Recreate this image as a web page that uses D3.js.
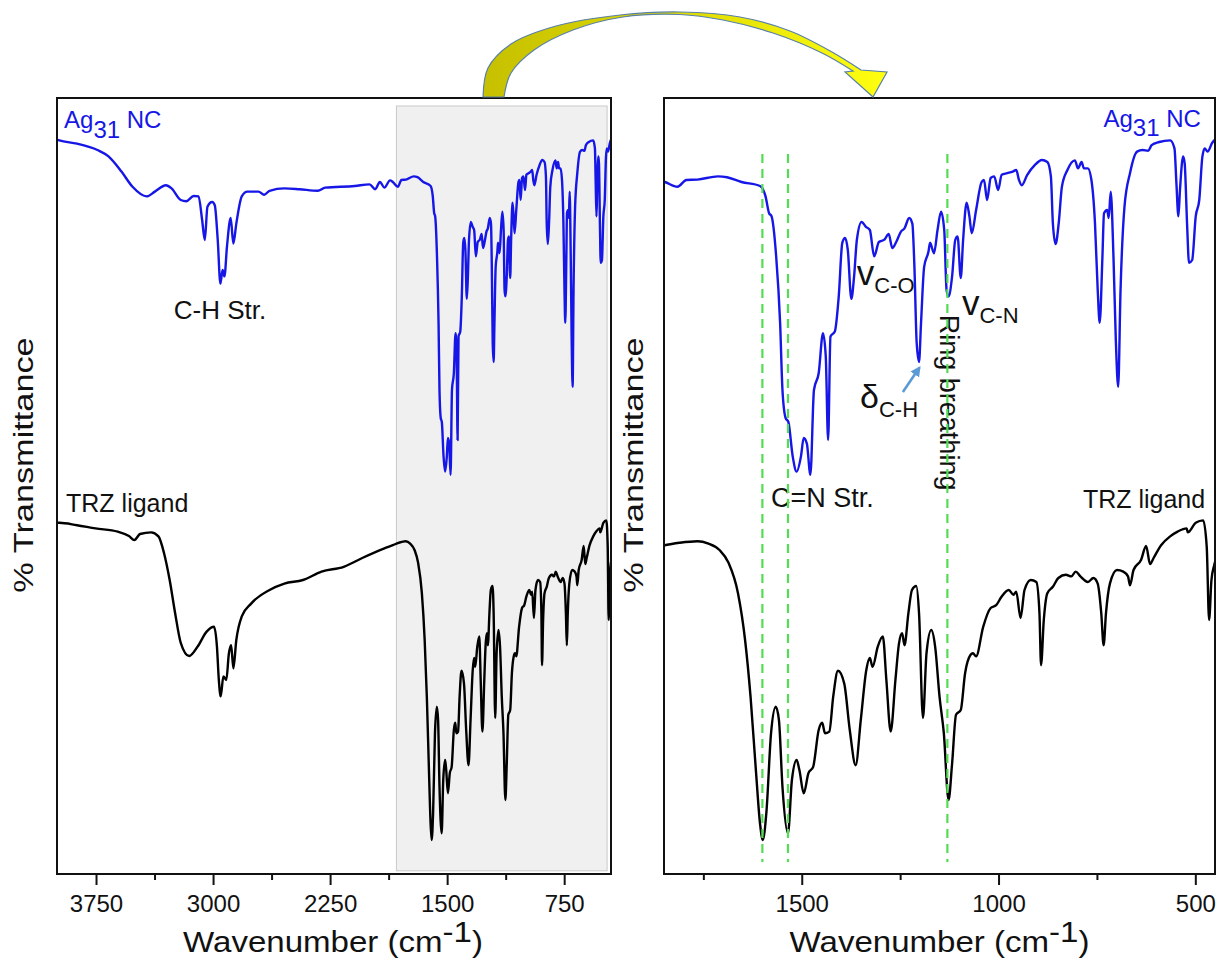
<!DOCTYPE html>
<html>
<head>
<meta charset="utf-8">
<script src="https://cdn.jsdelivr.net/npm/d3@7"></script>
<style>
  html, body { margin: 0; padding: 0; background: #fff; }
  svg { display: block; font-family: "Liberation Sans", Arial, Helvetica, sans-serif; }
</style>
</head>
<body>
<svg id="chart" width="1225" height="972"></svg>
<script>
// FTIR spectra: [wavenumber (cm-1), transmittance (a.u., traces offset vertically)]
const ag31NC = [
  [4000,91.8],[3985,91.7],[3872,91.3],[3741,90.5],[3670,89.7],[3587,87.8],[3516,85.9],[3425,84.7],
  [3373,85.3],[3302,86.1],[3266,85.7],[3207,84.25],[3172,84.1],[3124,84.75],[3093,84.7],[3070,81.75],
  [3053,79.25],[3036,83.4],[3006,84.0],[2989,83.6],[2970,79.25],[2953,73.8],[2939,75.5],[2927,74.7],
  [2911,78.4],[2887,82.0],[2870,78.8],[2851,81.3],[2816,84.7],[2780,85.3],[2709,85.3],[2673,84.9],
  [2638,85.4],[2543,85.7],[2448,85.6],[2329,85.4],[2282,85.8],[2092,86.0],[1997,86.2],[1961,85.6],
  [1931,86.5],[1902,85.8],[1866,86.7],
  [1848,86.5],[1816,85.9],[1793,86.75],[1765,86.8],[1713,87.2],[1690,87.1],[1653,86.5],[1606,86.0],
  [1592,84.7],[1583,82.6],[1577,82.25],[1565,77.2],[1555,68.9],[1549,60.5],[1541,57.0],[1534,56.5],
  [1523,52.2],[1513,50.3],[1502,52.2],[1495,54.5],[1487,53.8],[1478,49.9],[1469,60.5],[1457,62.6],
  [1446,67.6],[1439,64.7],[1433,54.25],[1427,67.2],[1416,67.8],[1406,72.2],[1397,78.9],[1390,79.5],
  [1383,78.0],[1374,71.9],[1367,74.7],[1360,79.25],[1348,81.5],[1337,80.9],[1327,80.5],[1316,77.2],
  [1304,79.0],[1290,79.3],[1279,80.0],[1270,78.25],[1260,79.0],[1248,80.3],[1239,80.7],[1227,82.0],
  [1219,81.3],[1214,76.3],[1208,66.4],[1202,64.0],[1197,68.8],[1189,75.9],[1178,77.8],[1174,78.9],
  [1164,77.6],[1155,80.5],[1146,82.8],[1138,80.5],[1132,73.0],[1127,72.2],[1118,74.7],[1110,79.25],
  [1104,79.7],[1096,74.5],[1090,79.25],[1081,83.9],[1074,82.2],[1068,80.1],[1057,83.0],[1043,86.5],
  [1037,86.75],[1029,84.25],[1020,87.0],[1011,87.2],[1001,85.5],[992,87.4],[978,87.6],[964,87.8],
  [955,88.0],[948,86.75],[941,86.1],[927,87.4],[908,88.6],[890,89.25],[876,89.0],[867,87.2],
  [862,81.4],[855,78.75],[847,81.4],[839,85.9],[825,88.0],[806,89.2],[798,88.2],[789,89.0],
  [783,88.2],[773,88.2],[764,86.75],[755,81.4],[748,73.0],[743,68.9],[736,77.2],[732,82.6],
  [724,83.0],[720,82.0],[715,85.3],[708,77.2],[702,66.75],[696,60.9],[690,73.0],[680,83.4],
  [666,87.6],[648,90.3],[634,90.5],[620,90.4],[611,91.1],[592,91.5],[564,91.7],[553,90.7],
  [548,86.3],[543,82.2],[539,85.5],[531,89.7],[527,88.8],[521,81.3],[516,76.4],[508,76.75],
  [499,82.2],[490,84.25],[482,89.7],[476,90.7],[469,90.3],[457,91.4],[450,91.8]
];

const trzLigand = [
  [4000,43.9],[3985,43.9],[3872,43.6],[3753,43.2],[3611,42.8],[3539,42.25],[3504,41.75],[3468,42.5],
  [3397,42.7],[3350,42.2],[3314,40.1],[3278,36.75],[3243,32.6],[3207,28.9],[3153,27.25],[3100,28.4],
  [3041,30.3],[2994,30.9],[2975,28.4],[2963,24.25],[2951,22.2],[2934,24.7],[2915,24.25],[2899,27.5],
  [2884,28.6],[2870,25.7],[2851,29.25],[2816,32.2],[2756,33.8],[2638,35.5],[2543,36.3],[2424,36.75],
  [2305,37.8],[2163,38.4],[2044,39.5],[1902,40.7],
  [1848,41.1],[1811,41.4],[1765,41.6],[1737,41.3],[1709,40.5],[1686,38.9],[1662,35.1],[1644,29.25],
  [1630,22.1],[1616,12.6],[1606,6.3],[1599,4.25],[1590,7.6],[1578,17.6],[1566,20.9],[1558,19.25],
  [1549,10.9],[1535,5.1],[1525,11.75],[1513,14.25],[1506,13.0],[1495,10.1],[1483,12.6],[1471,13.4],
  [1457,18.0],[1448,18.9],[1441,17.6],[1430,17.8],[1420,22.2],[1408,25.4],[1392,23.8],[1378,18.0],
  [1363,13.6],[1350,19.25],[1336,25.5],[1327,27.0],[1320,25.9],[1307,28.4],[1294,29.7],[1285,24.25],
  [1274,17.8],[1262,24.25],[1253,28.8],[1245,30.1],[1239,28.6],[1229,32.6],[1220,35.5],[1209,36.0],
  [1202,32.6],[1192,19.5],[1183,27.6],[1171,30.5],[1161,28.4],[1150,22.2],[1139,17.6],[1127,9.25],
  [1118,13.8],[1108,19.9],[1096,20.5],[1085,25.1],[1071,27.4],[1065,27.6],[1057,27.2],[1039,30.9],
  [1020,33.25],[1006,33.6],[992,34.7],[974,35.5],[962,34.9],[955,35.3],[944,32.0],[934,35.5],
  [918,36.75],[904,36.5],[896,32.6],[892,26.1],[885,31.75],[876,35.1],[862,35.9],[848,37.0],
  [829,37.4],[815,37.2],[804,37.8],[792,37.2],[773,36.5],[759,37.0],[748,36.3],[739,32.6],
  [733,28.6],[727,32.6],[717,36.3],[699,38.0],[683,37.8],[671,37.2],[666,36.1],[657,38.0],
  [638,39.25],[625,41.0],[615,38.75],[606,39.5],[587,41.1],[564,42.2],[545,42.8],[522,43.2],
  [519,42.7],[499,43.9],[480,44.2],[471,40.9],[465,31.75],[459,36.75],[452,38.6],[450,39.0]
];

// Axis ticks (cm-1)
const fullMajorTicks = [3750, 3000, 2250, 1500, 750];
const fullMinorTicks = [3375, 2625, 1875, 1125];
const zoomMajorTicks = [1500, 1000, 500];
const zoomMinorTicks = [1750, 1250, 750];

// Fingerprint window shaded in the full-range panel, shown enlarged on the right
const fingerprintWindow = [1825, 475];
// Bands followed from the cluster to the free ligand (C=N stretch pair, ring breathing)
const markedBands = [1600, 1535, 1130];

const BLUE = "#1616e6";
const svg = d3.select("#chart");

const yScale = d3.scaleLinear().domain([0, 97]).range([874, 98]);

const panels = [
  { id: "full", x0: 57, x1: 611, domain: [4000, 450], major: fullMajorTicks, minor: fullMinorTicks },
  { id: "zoom", x0: 664, x1: 1215, domain: [1850, 450], major: zoomMajorTicks, minor: zoomMinorTicks }
];
panels.forEach(p => { p.x = d3.scaleLinear().domain(p.domain).range([p.x0, p.x1]); });
const [full, zoom] = panels;

const defs = svg.append("defs");
panels.forEach(p => {
  defs.append("clipPath").attr("id", "clip-" + p.id)
    .append("rect").attr("x", p.x0).attr("y", yScale.range()[1])
    .attr("width", p.x1 - p.x0).attr("height", yScale.range()[0] - yScale.range()[1]);
});

// Shaded fingerprint window
svg.append("rect")
  .attr("x", full.x(fingerprintWindow[0]))
  .attr("y", yScale(96))
  .attr("width", full.x(fingerprintWindow[1]) - full.x(fingerprintWindow[0]))
  .attr("height", yScale(0.4) - yScale(96))
  .attr("fill", "#f0f0f0").attr("stroke", "#c9c9c9").attr("stroke-width", 1);

// Text helper: label with shifted sub/superscript runs
function richText(parent, x, y, runs, opts) {
  const t = parent.append("text").attr("x", x).attr("y", y)
    .attr("fill", opts.fill || "#111")
    .attr("text-anchor", opts.anchor || "start");
  let prev = 0;
  runs.forEach(r => {
    const s = t.append("tspan").text(r.text).attr("font-size", r.size);
    const shift = (r.shift || 0) - prev;
    if (shift) s.attr("dy", shift);
    prev = r.shift || 0;
  });
  return t;
}

const labels = svg.append("g");

// Left panel labels
richText(labels, full.x(3955), yScale(93.25), [
  { text: "Ag", size: 24 }, { text: "31", size: 24, shift: 9.5 }, { text: " NC", size: 24 }
], { fill: BLUE });
labels.append("text").attr("x", full.x(2955)).attr("y", yScale(69.4))
  .attr("text-anchor", "middle").attr("font-size", 26).attr("fill", "#111").text("C-H Str.");
labels.append("text").attr("x", full.x(3942)).attr("y", yScale(45.25))
  .attr("font-size", 25).attr("fill", "#111").text("TRZ ligand");

// Right panel labels
richText(labels, zoom.x(486), yScale(93.4), [
  { text: "Ag", size: 24 }, { text: "31", size: 24, shift: 9 }, { text: " NC", size: 24 }
], { fill: BLUE, anchor: "end" });
labels.append("text").attr("x", zoom.x(475)).attr("y", yScale(45.75))
  .attr("text-anchor", "end").attr("font-size", 25).attr("fill", "#111").text("TRZ ligand");
labels.append("text").attr("x", zoom.x(1578)).attr("y", yScale(45.9))
  .attr("font-size", 27).attr("fill", "#111").text("C=N Str.");
richText(labels, zoom.x(1360), yScale(73.6), [
  { text: "v", size: 35 }, { text: "C-O", size: 22, shift: 8 }
], {});
richText(labels, zoom.x(1093), yScale(69.9), [
  { text: "v", size: 35 }, { text: "C-N", size: 22, shift: 8 }
], {});
richText(labels, zoom.x(1352), yScale(58.25), [
  { text: "δ", size: 34 }, { text: "C-H", size: 22, shift: 9 }
], {});
labels.append("text")
  .attr("transform", `translate(${zoom.x(1149)},${yScale(69.9)}) rotate(90)`)
  .attr("font-size", 27).attr("fill", "#111").text("Ring breathing");

// Pointer to the C-H bending band
defs.append("marker").attr("id", "pointer-head")
  .attr("viewBox", "0 0 10 10").attr("refX", 8).attr("refY", 5)
  .attr("markerWidth", 4).attr("markerHeight", 4).attr("orient", "auto")
  .append("path").attr("d", "M0,0L10,5L0,10Z").attr("fill", "#5b9bd5");
svg.append("line")
  .attr("x1", zoom.x(1243)).attr("y1", yScale(60.25))
  .attr("x2", zoom.x(1201)).attr("y2", yScale(63.3))
  .attr("stroke", "#5b9bd5").attr("stroke-width", 2.6)
  .attr("marker-end", "url(#pointer-head)");

// Spectra
const traces = [
  { data: ag31NC, color: BLUE },
  { data: trzLigand, color: "#000" }
];
panels.forEach(p => {
  const line = d3.line().x(d => p.x(d[0])).y(d => yScale(d[1])).curve(d3.curveMonotoneX);
  const g = svg.append("g").attr("clip-path", `url(#clip-${p.id})`);
  traces.forEach(t => {
    g.append("path").datum(t.data).attr("d", line)
      .attr("fill", "none").attr("stroke", t.color)
      .attr("stroke-width", 2.4).attr("stroke-linejoin", "round");
  });
});

// Guide lines at the marked bands
svg.append("g").selectAll("line").data(markedBands).join("line")
  .attr("x1", d => zoom.x(d)).attr("x2", d => zoom.x(d))
  .attr("y1", yScale(90)).attr("y2", yScale(1.5))
  .attr("stroke", "#52dd52").attr("stroke-width", 2.2).attr("stroke-dasharray", "9,6");

// Frames and axes
panels.forEach(p => {
  svg.append("rect").attr("x", p.x0).attr("y", yScale.range()[1])
    .attr("width", p.x1 - p.x0).attr("height", yScale.range()[0] - yScale.range()[1])
    .attr("fill", "none").attr("stroke", "#111").attr("stroke-width", 2);

  const base = yScale.range()[0];
  const minorAxis = svg.append("g").attr("transform", `translate(0,${base})`)
    .call(d3.axisBottom(p.x).tickValues(p.minor).tickSize(6).tickFormat(""));
  const majorAxis = svg.append("g").attr("transform", `translate(0,${base})`)
    .call(d3.axisBottom(p.x).tickValues(p.major).tickSize(11).tickPadding(10).tickFormat(d3.format("d")));
  [minorAxis, majorAxis].forEach(a => {
    a.select(".domain").remove();
    a.selectAll(".tick line").attr("stroke", "#111").attr("stroke-width", 2);
    a.selectAll(".tick text").attr("font-size", 24).attr("fill", "#111")
      .attr("font-family", "\"Liberation Sans\", Arial, sans-serif");
  });

  // x title
  const cx = (p.x0 + p.x1) / 2 + (p.id === "full" ? -1 : 0);
  const xt = svg.append("g").attr("transform", `translate(${cx},952) scale(1.14,1)`);
  richText(xt, 0, 0, [
    { text: "Wavenumber (cm", size: 29 }, { text: "-1", size: 29, shift: -10 }, { text: ")", size: 29 }
  ], { anchor: "middle" });

  // y title
  svg.append("text")
    .attr("transform", `translate(${p.x0 - (p.id === "full" ? 24 : 21)},465) rotate(-90) scale(1.27,1)`)
    .attr("text-anchor", "middle").attr("font-size", 27).attr("fill", "#111")
    .text("% Transmittance");
});

// Curved arrow linking the shaded window to the enlarged panel
const grad = defs.append("linearGradient").attr("id", "arrow-fill")
  .attr("gradientUnits", "userSpaceOnUse").attr("x1", 483).attr("y1", 0).attr("x2", 887).attr("y2", 0);
grad.append("stop").attr("offset", "0").attr("stop-color", "#c6c000");
grad.append("stop").attr("offset", "0.45").attr("stop-color", "#dcd800");
grad.append("stop").attr("offset", "1").attr("stop-color", "#ffff10");

const outerEdge = [[483,97],[488,68],[511,44],[556,26],[620,15],[680,12],[740,17],[790,31],[832,52],[861,70]];
const arrowHead = [[887,72],[873,97],[845,72]];
const innerEdge = [[853,71],[822,53],[773,33],[723,20],[680,14.5],[623,17],[573,30],[534,50],[511,73],[504,97]];
const edge = d3.line().curve(d3.curveCatmullRom);
const arrowPath = edge(outerEdge) + arrowHead.map(d => "L" + d.join(",")).join("") +
  "L" + edge(innerEdge).slice(1) + "Z";
svg.append("path").attr("d", arrowPath)
  .attr("fill", "url(#arrow-fill)").attr("stroke", "#5a80a8").attr("stroke-width", 1.2)
  .attr("stroke-linejoin", "miter");
</script>
</body>
</html>
